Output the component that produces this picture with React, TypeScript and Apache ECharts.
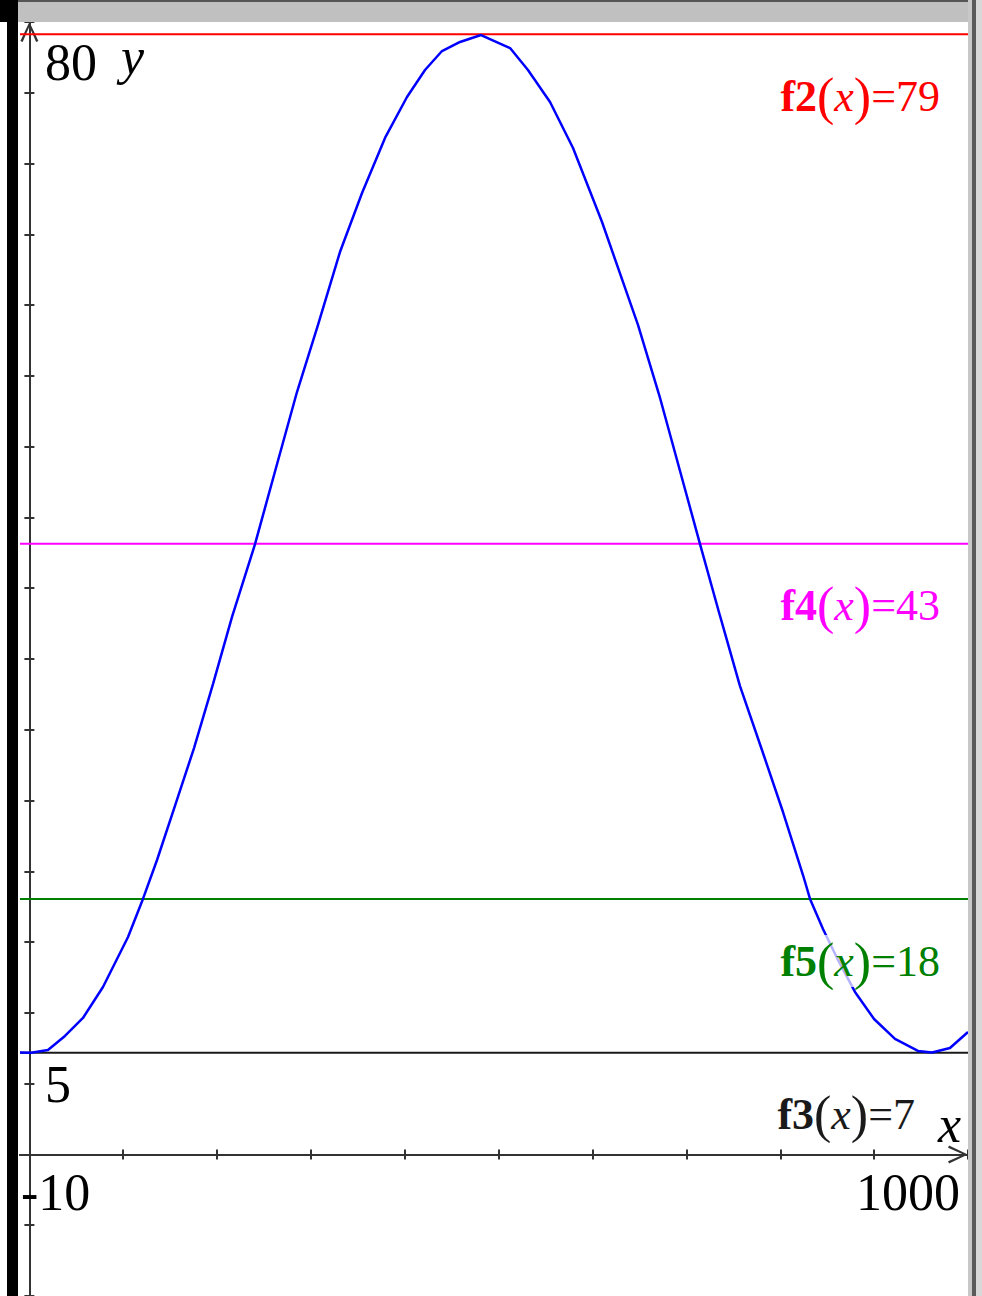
import React, { useEffect, useRef } from "react";
import * as echarts from "echarts";

// Blue curve f1(x)
const curveX = [-10, 1.7, 19.8, 37.9, 57.1, 78.4, 105.1, 121.0, 136.0, 155.1, 175.4, 195.6, 215.9, 240.4, 262.7, 285.1, 307.5, 330.9, 354.4, 378.9, 402.3, 421.5, 439.6, 458.8, 481.2, 512.1, 531.2, 554.7, 579.2, 610.1, 648.4, 671.9, 693.2, 714.5, 735.8, 757.1, 780.5, 802.9, 824.2, 831.7, 845.5, 861.5, 879.6, 899.9, 922.2, 946.7, 961.7, 980.8, 1000];
const curveY = [7.2, 7.18, 7.38, 8.37, 9.64, 11.83, 15.36, 18.05, 20.8, 24.62, 28.71, 33.23, 37.97, 43.12, 48.49, 53.86, 58.6, 63.75, 67.92, 71.81, 74.7, 76.61, 77.95, 78.59, 79.08, 78.16, 76.61, 74.35, 71.1, 65.87, 58.6, 53.44, 48.28, 43.12, 38.04, 33.09, 28.57, 24.19, 19.74, 18.05, 15.93, 13.74, 11.48, 9.57, 8.16, 7.31, 7.2, 7.52, 8.65];

// Horizontal lines f2..f5
const levelNames = ["f2", "f4", "f5", "f3"];
const levelValues = [79.13, 43.15, 18.04, 7.18];
const levelLabels = ["79", "43", "18", "7"];
const levelColors = ["#ff0000", "#ff00ff", "#008000", "#1a1a1a"];
const levelLabelInset = [28, 28, 28, 53];

// Axis window and ticks
const xMin = -10;
const xMax = 1000;
const yMin = -10;
const yMax = 80;
const yStep = 5;
const xTicks = [0, 100, 200, 300, 400, 500, 600, 700, 800, 900, 1000];
const windowLabels = ["80", "5", "-10", "1000"];

export default function App() {
  const ref = useRef<HTMLDivElement>(null);
  useEffect(() => {
    document.body.style.margin = "0";
    const chart = echarts.init(ref.current!, null, { renderer: "svg" });
    const serif = "'Liberation Serif', 'Times New Roman', serif";
    const axisColor = "#333333";
    const chevron = "path://M10,0 L20,21 L17.5,22 L10,5 L2.5,22 L0,21 Z";

    const xAxisBase = (inside: boolean, arrow: boolean) => ({
      type: "value",
      min: xMin,
      max: xMax,
      position: "bottom",
      axisLine: {
        show: true,
        onZero: true,
        onZeroAxisIndex: 0,
        symbol: arrow ? ["none", chevron] : ["none", "none"],
        symbolSize: [18, 20],
        symbolOffset: [0, -10],
        lineStyle: { color: axisColor, width: 2 },
      },
      axisTick: {
        show: true,
        inside,
        length: 5,
        customValues: xTicks,
        lineStyle: { color: axisColor, width: 2 },
      },
      axisLabel: { show: false },
      splitLine: { show: false },
    });
    const yAxisBase = (inside: boolean, arrow: boolean) => ({
      type: "value",
      min: yMin,
      max: yMax,
      interval: yStep,
      position: "left",
      axisLine: {
        show: true,
        onZero: true,
        onZeroAxisIndex: 0,
        symbol: arrow ? ["none", chevron] : ["none", "none"],
        symbolSize: [18, 20],
        symbolOffset: [0, -10],
        lineStyle: { color: axisColor, width: 2 },
      },
      axisTick: {
        show: true,
        inside,
        length: 5,
        lineStyle: { color: axisColor, width: 2 },
      },
      axisLabel: { show: false },
      splitLine: { show: false },
    });

    const series: any[] = levelNames.map((n, i) => ({
      type: "line",
      name: n,
      data: [
        [xMin, levelValues[i]],
        [xMax, levelValues[i]],
      ],
      showSymbol: false,
      silent: true,
      lineStyle: { color: levelColors[i], width: 2 },
      z: 3,
    }));
    series.push({
      type: "line",
      name: "f1",
      data: curveX.map((x, i) => [x, curveY[i]]),
      showSymbol: false,
      silent: true,
      lineStyle: { color: "#0000ff", width: 2.5 },
      z: 4,
    });

    chart.setOption({
      animation: false,
      backgroundColor: "#ffffff",
      grid: { left: 20, top: 22, width: 948, height: 1274, containLabel: false, outerBoundsMode: "none" },
      xAxis: [xAxisBase(false, true), xAxisBase(true, false)],
      yAxis: [yAxisBase(false, true), yAxisBase(true, false)],
      series,
    });

    const textStyle = (extra: any) => ({
      fontFamily: serif,
      fontSize: 52,
      fill: "#000",
      ...extra,
    });

    const graphics: any[] = [
      { type: "rect", shape: { x: 18, y: 0, width: 950, height: 22 }, style: { fill: "#c0c0c0" }, z: 50 },
      { type: "rect", shape: { x: 0, y: 0, width: 982, height: 2 }, style: { fill: "#555555" }, z: 51 },
      { type: "rect", shape: { x: 0, y: 0, width: 18, height: 22 }, style: { fill: "#000000" }, z: 51 },
      { type: "rect", shape: { x: 7, y: 0, width: 11, height: 1296 }, style: { fill: "#000000" }, z: 51 },
      { type: "rect", shape: { x: 968, y: 0, width: 4, height: 1296 }, style: { fill: "#c8c8c8" }, z: 51 },
      { type: "rect", shape: { x: 972, y: 0, width: 4, height: 1296 }, style: { fill: "#5a5a5a" }, z: 51 },
      { type: "rect", shape: { x: 976, y: 0, width: 6, height: 1296 }, style: { fill: "#d8d8d8" }, z: 51 },
      { type: "text", x: 45, y: 62, z: 60, style: textStyle({ text: windowLabels[0], verticalAlign: "middle" }) },
      { type: "text", x: 121, y: 56, z: 60, style: textStyle({ text: "y", fontStyle: "italic", verticalAlign: "middle" }) },
      { type: "text", x: 45, y: 1084, z: 60, style: textStyle({ text: windowLabels[1], verticalAlign: "middle" }) },
      { type: "text", x: 21, y: 1192, z: 60, style: textStyle({ text: windowLabels[2], verticalAlign: "middle" }) },
      { type: "text", x: 960, y: 1192, z: 60, style: textStyle({ text: windowLabels[3], align: "right", verticalAlign: "middle" }) },
      { type: "text", x: 938, y: 1124, z: 60, style: textStyle({ text: "x", fontStyle: "italic", verticalAlign: "middle" }) },
    ];

    levelNames.forEach((n, i) => {
      const p = chart.convertToPixel({ xAxisIndex: 0, yAxisIndex: 0 } as any, [xMax, levelValues[i]]) as number[];
      const c = levelColors[i];
      graphics.push({
        type: "text",
        x: p[0] - levelLabelInset[i],
        y: p[1] + 62,
        z: 60,
        style: {
          text: `{f|${n}}{p|(}{x|x}{p|)}{v|=${levelLabels[i]}}`,
          align: "right",
          verticalAlign: "middle",
          fill: c,
          backgroundColor: "rgba(255,255,255,0.7)",
          rich: {
            f: { fontFamily: serif, fontWeight: "bold", fontSize: 44, fill: c, color: c },
            p: { fontFamily: serif, fontSize: 52, fill: c, color: c },
            x: { fontFamily: serif, fontStyle: "italic", fontSize: 44, fill: c, color: c },
            v: { fontFamily: serif, fontSize: 44, fill: c, color: c },
          },
        },
      });
    });

    chart.setOption({ graphic: graphics });
    return () => chart.dispose();
  }, []);
  return <div ref={ref} style={{ width: 982, height: 1296 }} />;
}
